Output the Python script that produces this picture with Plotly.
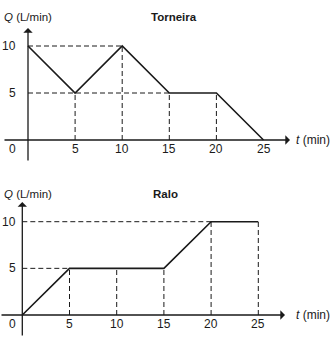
import plotly.graph_objects as go

# Flow rate data (L/min) against time (min)
t_min = [0, 5, 10, 15, 20, 25]
q_torneira = [10, 5, 10, 5, 5, 0]
q_ralo = [0, 5, 5, 5, 10, 10]
x_ticks = [5, 10, 15, 20, 25]
y_ticks = [5, 10]
titles = ["Torneira", "Ralo"]

W, H = 331, 339
FONT = "Liberation Sans, Arial, sans-serif"
INK = "#1a1a1a"

fig = go.Figure()

# Panel geometry: x pixel origin / scale, y pixel origin / scale, paper y domain
panels = [
    dict(q=q_torneira, x0=28.0, sx=9.42, y0=140.0, sy=9.4, dom=(0.5, 1.0),
         title_px=174, title_py=17, qlab_py=17, xr="x", yr="y",
         xs_px=3, xt_px=290, ys_py=162, yt_py=28, lab_py=148.5),
    dict(q=q_ralo, x0=22.3, sx=9.44, y0=315.0, sy=9.33, dom=(0.0, 0.5),
         title_px=165, title_py=194, qlab_py=194, xr="x2", yr="y2",
         xs_px=0, xt_px=285, ys_py=337, yt_py=202, lab_py=324),
]


def guides(ts, qs):
    """Dashed reference lines from each point to the axes."""
    segs = []
    for ti, qi in zip(ts, qs):
        if ti > 0 and qi > 0:
            segs.append(((ti, ti), (0, qi)))
    for lev in sorted(set(q for q in qs if q > 0)):
        ext = None
        for i in range(len(ts) - 1):
            if qs[i] == lev and qs[i + 1] == lev:
                ext = ts[i]
                break
        if ext is None:
            ext = max(ti for ti, qi in zip(ts, qs) if qi == lev)
        segs.append(((0, ext), (lev, lev)))
    return segs


annotations = []
for k, p in enumerate(panels):
    xr, yr = p["xr"], p["yr"]
    xa = "xaxis" if k == 0 else "xaxis2"
    ya = "yaxis" if k == 0 else "yaxis2"
    dom = p["dom"]
    py_top = H * (1 - dom[1])
    py_bot = H * (1 - dom[0])
    x_lo = -p["x0"] / p["sx"]
    x_hi = (W - p["x0"]) / p["sx"]
    y_lo = (p["y0"] - py_bot) / p["sy"]
    y_hi = (p["y0"] - py_top) / p["sy"]
    fig.update_layout(**{
        xa: dict(domain=[0, 1], range=[x_lo, x_hi], visible=False, fixedrange=True,
                 anchor=yr),
        ya: dict(domain=list(dom), range=[y_lo, y_hi], visible=False, fixedrange=True,
                 anchor=xr),
    })

    def px2x(px):
        return (px - p["x0"]) / p["sx"]

    def py2y(py):
        return (p["y0"] - py) / p["sy"]

    # dashed guides
    for (gx, gy) in guides(t_min, p["q"]):
        fig.add_trace(go.Scatter(x=list(gx), y=list(gy), mode="lines",
                                 line=dict(color=INK, width=1, dash="5px,3px"),
                                 xaxis=xr, yaxis=yr, hoverinfo="skip", showlegend=False))

    # flow curve
    fig.add_trace(go.Scatter(x=t_min, y=p["q"], mode="lines",
                             line=dict(color=INK, width=1.6),
                             xaxis=xr, yaxis=yr, showlegend=False))

    # axes with arrowheads
    annotations.append(dict(x=px2x(p["xt_px"]), y=0, ax=px2x(p["xs_px"]), ay=0,
                            xref=xr, yref=yr, axref=xr, ayref=yr, showarrow=True,
                            arrowhead=1, arrowsize=1.2, arrowwidth=1.3,
                            arrowcolor=INK, text=""))
    annotations.append(dict(x=0, y=py2y(p["yt_py"]), ax=0, ay=py2y(p["ys_py"]),
                            xref=xr, yref=yr, axref=xr, ayref=yr, showarrow=True,
                            arrowhead=1, arrowsize=1.2, arrowwidth=1.3,
                            arrowcolor=INK, text=""))

    # tick labels
    lab_y = py2y(p["lab_py"])
    for xv in x_ticks:
        annotations.append(dict(x=xv, y=lab_y, xref=xr, yref=yr, text=str(xv),
                                showarrow=False, xanchor="center", yanchor="middle",
                                font=dict(family=FONT, size=12, color=INK)))
    lab_x = px2x(17.5)
    for yv in y_ticks:
        annotations.append(dict(x=lab_x, y=yv, xref=xr, yref=yr, text=str(yv),
                                showarrow=False, xanchor="right", yanchor="middle",
                                font=dict(family=FONT, size=12, color=INK)))
    annotations.append(dict(x=lab_x, y=lab_y, xref=xr, yref=yr, text="0",
                            showarrow=False, xanchor="right", yanchor="middle",
                            font=dict(family=FONT, size=12, color=INK)))

    # axis titles
    annotations.append(dict(x=px2x(294), y=0, xref=xr, yref=yr,
                            text="<i>t</i> (min)", showarrow=False, xanchor="left",
                            yanchor="middle", font=dict(family=FONT, size=12, color=INK)))
    annotations.append(dict(x=2 / W, y=1 - p["qlab_py"] / H, xref="paper", yref="paper",
                            text="<i>Q</i> (L/min)", showarrow=False, xanchor="left",
                            yanchor="middle", font=dict(family=FONT, size=11.5, color=INK)))
    annotations.append(dict(x=p["title_px"] / W, y=1 - p["title_py"] / H,
                            xref="paper", yref="paper", text="<b>%s</b>" % titles[k],
                            showarrow=False, xanchor="center", yanchor="middle",
                            font=dict(family=FONT, size=11.5, color=INK)))

fig.update_layout(width=W, height=H, margin=dict(l=0, r=0, t=0, b=0),
                  paper_bgcolor="white", plot_bgcolor="white",
                  annotations=annotations, showlegend=False)

fig.write_html("out.html", config={"displayModeBar": False})
